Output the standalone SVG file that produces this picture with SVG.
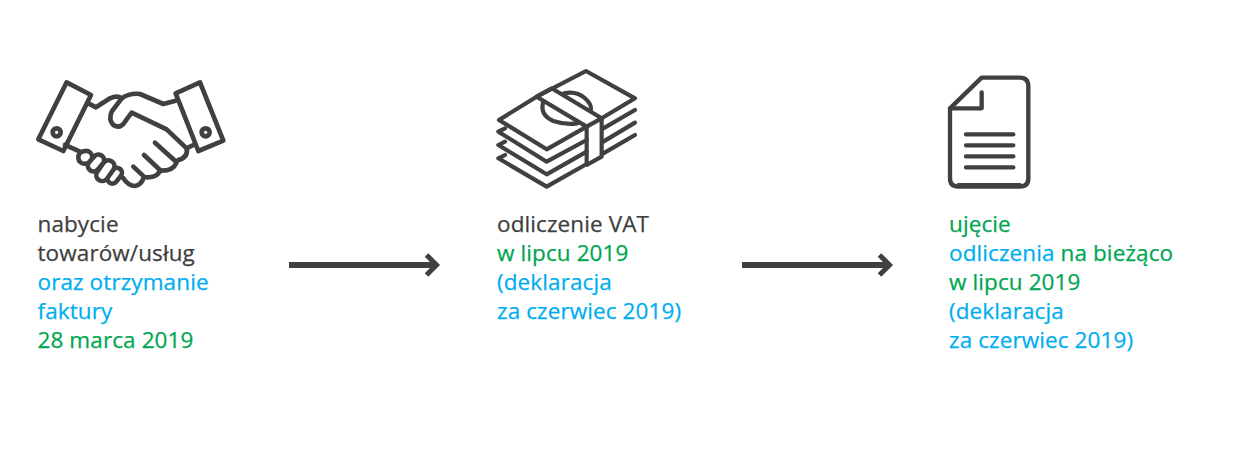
<svg xmlns="http://www.w3.org/2000/svg" width="1236" height="453" viewBox="0 0 1236 453">
<style>
text{font-family:"Open Sans",sans-serif;font-size:22.500px;font-weight:500;letter-spacing:.1px;stroke-width:.25px}
.d{fill:#404040;stroke:#404040}.b{fill:#00aeef;stroke:#00aeef}.g{fill:#00a651;stroke:#00a651}
.i{fill:none;stroke:#404040;stroke-linecap:round;stroke-linejoin:round}
.i3{stroke-width:14}
.f{fill:#fff}
.a{fill:none;stroke:#404040;stroke-width:6}
.h{fill:none;stroke:#404040;stroke-width:5}
</style>
<rect width="1236" height="453" fill="#fff"/>
<g id="node-1">
<g class="i i3" transform="translate(30 70) scale(.3333)">
<path d="M110 37L183 75L100 243L25 208Z"/>
<path d="M437 70L510 37L580 212L505 243Z"/>
<circle cx="80" cy="187" r="12"/><circle cx="527" cy="187" r="12"/>
<path d="M175 100L198 112L240 85Q262 75 275 85"/>
<path d="M437 92L400 102L330 72Q300 68 275 85L245 125Q235 150 250 165Q270 178 285 155L305 128L410 178L470 235Q475 262 445 270"/>
<path d="M490 225L470 235"/>
<path d="M375 218L440 277Q430 302 395 302M342 255L390 300Q385 322 350 322M310 290L342 320Q335 345 315 348Q295 348 280 325"/>
<path d="M105 225L150 245"/>
<g class="f">
<rect x="145" y="243" width="42" height="38" rx="19" transform="rotate(-5 166 262)"/>
<rect x="228" y="302" width="52" height="30" rx="15" transform="rotate(-52 254 317)"/>
<rect x="170" y="262" width="56" height="34" rx="17" transform="rotate(-48 198 279)"/>
<rect x="192" y="284" width="68" height="36" rx="18" transform="rotate(-55 226 302)"/>
</g>
</g>
<text x="37.500" y="231.500" class="d">nabycie</text>
<text x="37.500" y="260.500" class="d">towarów/usług</text>
<text x="37.500" y="289.500" class="b">oraz otrzymanie</text>
<text x="37.500" y="318.500" class="b">faktury</text>
<text x="37.500" y="347.500" class="g">28 marca 2019</text>
</g>
<g id="node-2">
<g class="i" stroke-width="12.500" transform="translate(490 60) scale(.3333)">
<path d="M140 110L288 33L435 115L335 175M290 200L170 268L27 180L140 110"/>
<path d="M140 110L185 85L335 175L290 200Z"/>
<path d="M290 200V315L335 290V175"/>
<path d="M222 100Q260 92 285 115Q305 133 303 148"/>
<path d="M160 125Q148 165 190 183Q225 195 262 190"/>
<path d="M340 205L435 150M340 245L435 188M340 280L435 225"/>
<path d="M45 205L25 215L170 305L290 240M45 245L25 255L170 343L290 275M45 285L25 295L170 380L290 312"/>
</g>
<text x="497" y="231.500" class="d">odliczenie VAT</text>
<text x="497" y="260.500" class="g">w lipcu 2019</text>
<text x="497" y="289.500" class="b">(deklaracja</text>
<text x="497" y="318.500" class="b">za czerwiec 2019)</text>
</g>
<g id="node-3">
<g class="i" transform="translate(940 65) scale(.3333)">
<path stroke-width="13" d="M30 130L125 38H240Q265 38 265 65V340Q265 365 240 365H55Q30 365 30 340Z"/>
<path stroke-width="13" d="M30 130H125V82"/>
<path stroke-width="12" d="M55 360H240"/>
<path stroke-width="13" d="M78 208H220M78 241H220M78 274H220M78 307H220"/>
</g>
<text x="949" y="231.500" class="g">ujęcie</text>
<text x="949" y="260.500"><tspan class="b">odliczenia</tspan><tspan class="g"> na bieżąco</tspan></text>
<text x="949" y="289.500" class="g">w lipcu 2019</text>
<text x="949" y="318.500" class="b">(deklaracja</text>
<text x="949" y="347.500" class="b">za czerwiec 2019)</text>
</g>
<g id="connectors">
<path class="a" d="M289 265H436"/><path class="h" d="M426.500 255L436.500 265L426.500 275"/>
<path class="a" d="M742 265H889"/><path class="h" d="M879.500 255L889.500 265L879.500 275"/>
</g>
</svg>
